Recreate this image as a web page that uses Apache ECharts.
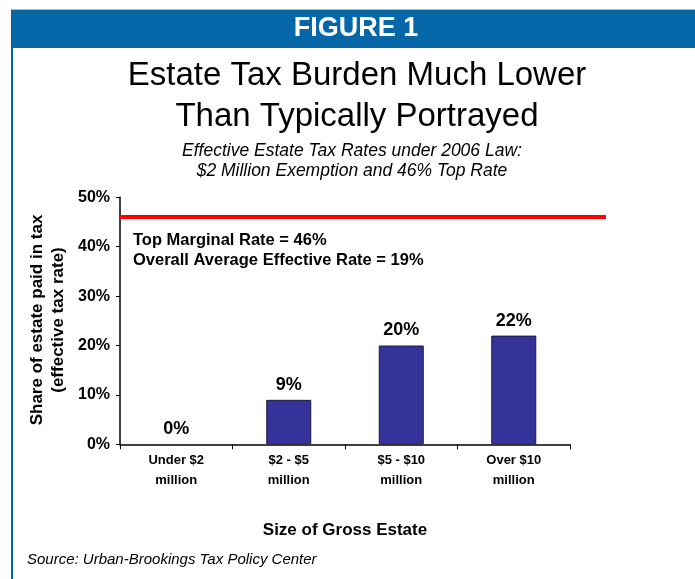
<!DOCTYPE html>
<html>
<head>
<meta charset="utf-8">
<script src="https://cdn.jsdelivr.net/npm/echarts@6/dist/echarts.min.js"></script>
<style>
html,body{margin:0;padding:0;background:#fff;}
#chart{width:695px;height:579px;}
</style>
</head>
<body>
<div id="chart"></div>
<script>
var categories = ['Under $2\nmillion', '$2 - $5\nmillion', '$5 - $10\nmillion', 'Over $10\nmillion'];
var effectiveRates = [0, 9, 20, 22];
var topMarginalRate = 46;
var overallAverageRate = 19;
var yTicks = [0, 10, 20, 30, 40, 50];

var FONT = 'Liberation Sans, Arial, sans-serif';
var chart = echarts.init(document.getElementById('chart'), null, {renderer: 'canvas'});

var gridTop = 197.3, gridBottom = 579 - 444.3;

var barData = effectiveRates.map(function (v) {
  return v === 0 ? {value: v, itemStyle: {borderWidth: 0, color: 'rgba(0,0,0,0)'}} : {value: v};
});

var option = {
  animation: false,
  backgroundColor: '#ffffff',
  grid: [
    {left: 120, right: 125, top: gridTop, bottom: gridBottom, containLabel: false},
    {left: 120, right: 89, top: gridTop, bottom: gridBottom, containLabel: false}
  ],
  xAxis: [
    {
      type: 'category', gridIndex: 0, data: categories,
      axisLine: {lineStyle: {color: '#000', width: 1.5}},
      axisTick: {show: true, length: 5, alignWithLabel: false, lineStyle: {color: '#000'}},
      axisLabel: {color: '#000', fontFamily: FONT, fontWeight: 'bold', fontSize: 13, lineHeight: 20, margin: 6, interval: 0},
      name: 'Size of Gross Estate', nameLocation: 'middle', nameGap: 78,
      nameTextStyle: {color: '#000', fontFamily: FONT, fontWeight: 'bold', fontSize: 17}
    },
    {type: 'value', gridIndex: 1, min: 0, max: 1, show: false}
  ],
  yAxis: [
    {
      type: 'value', gridIndex: 0, min: yTicks[0], max: yTicks[yTicks.length - 1], interval: 10,
      axisLine: {show: true, lineStyle: {color: '#000', width: 1.5}},
      axisTick: {show: true, length: 4, inside: false, lineStyle: {color: '#000'}},
      splitLine: {show: false},
      axisLabel: {color: '#000', fontFamily: FONT, fontWeight: 'bold', fontSize: 16, margin: 10, formatter: '{value}%'}
    },
    {type: 'value', gridIndex: 1, min: yTicks[0], max: yTicks[yTicks.length - 1], show: false}
  ],
  series: [
    {
      type: 'bar', xAxisIndex: 0, yAxisIndex: 0, data: barData, barWidth: '40%',
      itemStyle: {color: '#333399', borderColor: '#1a1a40', borderWidth: 1},
      label: {show: true, position: 'top', distance: 6, color: '#000', fontFamily: FONT, fontWeight: 'bold', fontSize: 18, formatter: '{c}%'}
    },
    {
      type: 'line', xAxisIndex: 1, yAxisIndex: 1, data: [[0, topMarginalRate], [1, topMarginalRate]],
      symbol: 'none', lineStyle: {color: '#ff0000', width: 4}, silent: true
    }
  ],
  graphic: [
    {type: 'rect', shape: {x: 11, y: 9, width: 684, height: 1}, style: {fill: '#b8bcc4'}},
    {type: 'rect', shape: {x: 11, y: 10, width: 684, height: 38}, style: {fill: '#0667A8'}},
    {type: 'rect', shape: {x: 11, y: 48, width: 2, height: 531}, style: {fill: '#0667A8'}},
    {type: 'text', style: {text: 'FIGURE 1', x: 356, y: 29, textAlign: 'center', textVerticalAlign: 'middle', fill: '#fff', font: 'bold 27px ' + FONT}},
    {type: 'text', style: {text: 'Estate Tax Burden Much Lower', x: 357, y: 76, textAlign: 'center', textVerticalAlign: 'middle', fill: '#000', font: '33px ' + FONT}},
    {type: 'text', style: {text: 'Than Typically Portrayed', x: 357, y: 117, textAlign: 'center', textVerticalAlign: 'middle', fill: '#000', font: '33px ' + FONT}},
    {type: 'text', style: {text: 'Effective Estate Tax Rates under 2006 Law:', x: 352, y: 151, textAlign: 'center', textVerticalAlign: 'middle', fill: '#000', font: 'italic 17.5px ' + FONT}},
    {type: 'text', style: {text: '$2 Million Exemption and 46% Top Rate', x: 352, y: 171.5, textAlign: 'center', textVerticalAlign: 'middle', fill: '#000', font: 'italic 17.5px ' + FONT}},
    {type: 'text', style: {text: 'Top Marginal Rate = ' + topMarginalRate + '%', x: 133, y: 240, textAlign: 'left', textVerticalAlign: 'middle', fill: '#000', font: 'bold 16.5px ' + FONT}},
    {type: 'text', style: {text: 'Overall Average Effective Rate = ' + overallAverageRate + '%', x: 133, y: 260.5, textAlign: 'left', textVerticalAlign: 'middle', fill: '#000', font: 'bold 16.5px ' + FONT}},
    {type: 'text', x: 48, y: 320, rotation: Math.PI / 2, style: {text: 'Share of estate paid in tax\n(effective tax rate)', x: 0, y: 0, textAlign: 'center', textVerticalAlign: 'middle', lineHeight: 21, fill: '#000', font: 'bold 17px ' + FONT}},
    {type: 'text', style: {text: 'Source: Urban-Brookings Tax Policy Center', x: 27, y: 560, textAlign: 'left', textVerticalAlign: 'middle', fill: '#000', font: 'italic 15px ' + FONT}}
  ]
};
chart.setOption(option);
</script>
</body>
</html>
